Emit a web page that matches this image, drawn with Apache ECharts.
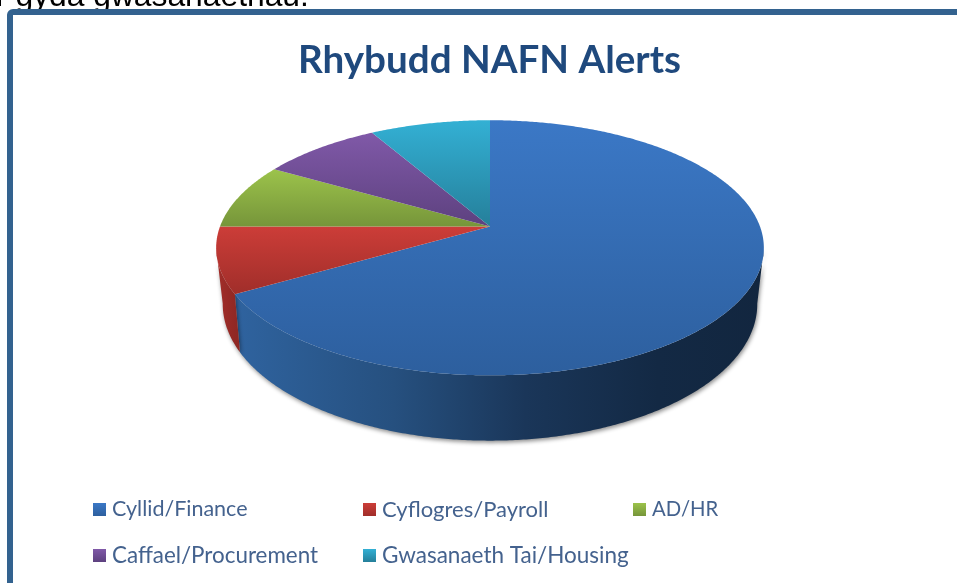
<!DOCTYPE html>
<html>
<head>
<meta charset="utf-8">
<style>html,body{margin:0;padding:0;background:#fff;overflow:hidden}#c{width:957px;height:583px}</style>
<script src="https://cdn.jsdelivr.net/npm/echarts@6/dist/echarts.min.js"></script>
</head>
<body>
<div id="c"></div>
<script>
const chartTitle = 'Rhybudd NAFN Alerts';
const categories = ['Cyllid/Finance', 'Cyflogres/Payroll', 'AD/HR', 'Caffael/Procurement', 'Gwasanaeth Tai/Housing'];
const sliceValues = [8, 1, 1, 1, 1];
const topColors = [['#3B78C6', '#2D5F9E'], ['#CC3D38', '#A02E2A'], ['#9CC34B', '#76953A'], ['#8059A8', '#5D417F'], ['#33B0D4', '#257F9A']];
const wallColors = [
  [[0, '#2F639F'], [0.3, '#26507F'], [0.55, '#1A3659'], [0.8, '#132944'], [1, '#12263F']],
  [[0, '#A32E2A'], [1, '#8C2723']],
  [[0, '#76953A'], [1, '#76953A']],
  [[0, '#5D417F'], [1, '#5D417F']],
  [[0, '#257F9A'], [1, '#257F9A']]
];
const legendSpots = [[93, 497], [363, 497], [633, 497], [93, 543], [363, 543]];
const legendFontSizes = [21.5, 22, 20.3, 22.4, 22.5];

// projected circle parameters for the top face and the lower rim of the wall
const topRim = { cx: 490, cy: 226.5, a: 124, b: 270, k: -0.167 };
const lowRim = { cx: 490, cy: 279.7, a: 132.3, b: 263, k: -0.178 };
const WALL_FROM = 100, WALL_TO = 260;

const total = sliceValues.reduce((s, v) => s + v, 0);
const startAngles = [];
sliceValues.reduce((s, v, i) => { startAngles[i] = s / total * 360; return s + v; }, 0);

function project(rim, deg) {
  const t = deg * Math.PI / 180, u = Math.sin(t), v = -Math.cos(t), d = 1 + rim.k * v;
  return [rim.cx + rim.b * u / d, rim.cy + rim.a * v / d];
}
function arc(rim, from, to) {
  const pts = [];
  const n = Math.max(2, Math.ceil((to - from) * 2));
  for (let i = 0; i <= n; i++) pts.push(project(rim, from + (to - from) * i / n));
  return pts;
}
function vGrad(c) {
  return { type: 'linear', x: 0, y: 0, x2: 0, y2: 1, colorStops: [{ offset: 0, color: c[0] }, { offset: 1, color: c[1] }] };
}
function makeRender(idx) {
  return function (params, api) {
    const from = startAngles[idx];
    const to = from + api.value(0) / total * 360;
    const children = [];
    const wFrom = Math.max(from, WALL_FROM), wTo = Math.min(to, WALL_TO);
    if (wTo > wFrom) {
      const pts = arc(topRim, wFrom, wTo).concat(arc(lowRim, wFrom, wTo).reverse());
      children.push({
        type: 'polygon', z2: 1, shape: { points: pts },
        style: {
          fill: { type: 'linear', x: 0, y: 0, x2: 1, y2: 0, colorStops: wallColors[idx].map(s => ({ offset: s[0], color: s[1] })) },
          shadowBlur: 4, shadowColor: 'rgba(0,0,0,0.45)', shadowOffsetX: 1, shadowOffsetY: 2
        }
      });
    }
    const face = [[topRim.cx, topRim.cy]].concat(arc(topRim, from, to));
    children.push({ type: 'polygon', z2: 2, shape: { points: face }, style: { fill: vGrad(topColors[idx]) } });
    return { type: 'group', children };
  };
}

const chart = echarts.init(document.getElementById('c'), null, { renderer: 'canvas' });
chart.setOption({
  animation: false,
  backgroundColor: '#fff',
  title: {
    text: chartTitle, left: 298, top: 41, padding: 0,
    textStyle: { fontFamily: 'Lato', fontWeight: 'bold', fontSize: 38.6, color: '#1F497D' }
  },
  legend: categories.map((name, i) => ({
    left: legendSpots[i][0], top: legendSpots[i][1], padding: 0, itemGap: 0,
    icon: 'rect', itemWidth: 13, itemHeight: 13, selectedMode: false,
    textStyle: { fontFamily: 'Lato', fontSize: legendFontSizes[i], lineHeight: 25, color: '#44628E', padding: [0, 0, 0, 1] },
    data: [{ name, itemStyle: { color: vGrad(topColors[i]) } }]
  })),
  graphic: [
    { type: 'text', z: 0, x: -4, y: 13, style: { text: 'r gyda gwasanaethau.', fontFamily: 'Liberation Sans', fontSize: 31.8, fill: '#000', verticalAlign: 'bottom' } },
    { type: 'rect', z: 1, shape: { x: 10, y: 12, width: 1100, height: 800, r: 3 }, style: { fill: '#fff', stroke: '#33628F', lineWidth: 6 } }
  ],
  series: categories.map((name, i) => ({
    type: 'custom', name, coordinateSystem: 'none', z: 5, silent: true,
    renderItem: makeRender(i),
    data: [[sliceValues[i]]]
  }))
});
</script>
</body>
</html>
